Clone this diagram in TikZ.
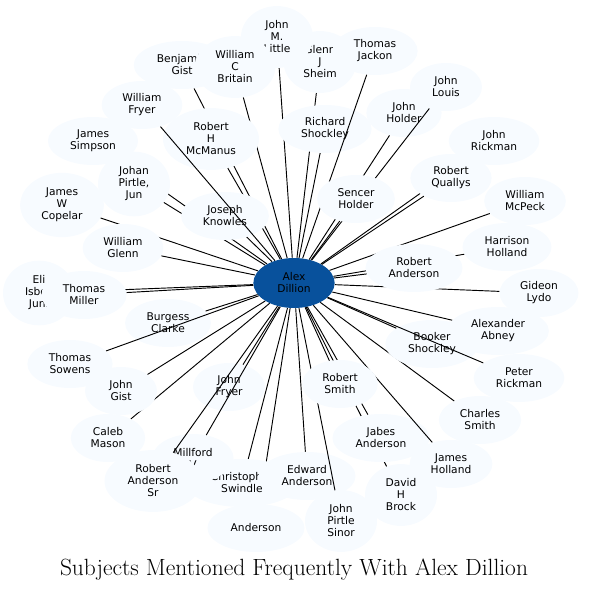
\documentclass[tikz,border=0pt]{standalone}
\usepackage{fontspec}
\usetikzlibrary{shapes.geometric}
\newfontfamily\dejavu{DejaVu Sans}
\definecolor{leaffill}{HTML}{F7FBFF}
\definecolor{hubfill}{HTML}{08519C}
\begin{document}
\begin{tikzpicture}[x=0.75pt, y=-0.75pt,
  person/.style={ellipse, fill=leaffill, align=center, inner xsep=6.75pt, inner ysep=4.3pt,
    minimum width=54pt, minimum height=36pt, font=\dejavu\fontsize{8}{9}\selectfont},
  hub/.style={person, fill=hubfill, minimum width=61pt, minimum height=37.5pt},
  link/.style={line width=0.7pt}]
\useasboundingbox (0,0) rectangle (588,591);

\node (alex) [hub] at (294,283) {Alex\\Dillion};

\node (eli) [person] at (39,293) {Eli\\Isbell\\Jun.};
\draw[link] (alex) -- (eli);
\node (copelar) [person] at (62,205) {James\\W\\Copelar};
\draw[link] (alex) -- (copelar);
\node (simpson) [person] at (93,141) {James\\Simpson};
\draw[link] (alex) -- (simpson);
\node (johan) [person] at (134,184) {Johan\\Pirtle,\\Jun};
\draw[link] (alex) -- (johan);
\node (benjamin) [person] at (182,65) {Benjamin\\Gist};
\draw[link] (alex) -- (benjamin);
\node (glenn) [person] at (320,62) {Glenn\\J\\Sheim};
\draw[link] (alex) -- (glenn);
\node (little) [person] at (277,37) {John\\M.\\Little};
\draw[link] (alex) -- (little);
\node (britain) [person] at (235,67) {William\\C\\Britain};
\draw[link] (alex) -- (britain);
\node (mcmanus) [person] at (211,139) {Robert\\H\\McManus};
\draw[link] (alex) -- (mcmanus);
\node (knowles) [person] at (225,216) {Joseph\\Knowles};
\draw[link] (alex) -- (knowles);
\node (wfryer) [person] at (142,105) {William\\Fryer};
\draw[link] (alex) -- (wfryer);
\node (rshockley) [person] at (325,129) {Richard\\Shockley};
\draw[link] (alex) -- (rshockley);
\node (jackon) [person] at (375,51) {Thomas\\Jackon};
\draw[link] (alex) -- (jackon);
\node (jholder) [person] at (404,113) {John\\Holder};
\draw[link] (alex) -- (jholder);
\node (louis) [person] at (446,87) {John\\Louis};
\draw[link] (alex) -- (louis);
\node (sencer) [person] at (356,199) {Sencer\\Holder};
\draw[link] (alex) -- (sencer);
\node (jrickman) [person] at (494,141) {John\\Rickman};
\draw[link] (alex) -- (jrickman);
\node (quallys) [person] at (451,178) {Robert\\Quallys};
\draw[link] (alex) -- (quallys);
\node (mcpeck) [person] at (525,201) {William\\McPeck};
\draw[link] (alex) -- (mcpeck);
\node (harrison) [person] at (507,247) {Harrison\\Holland};
\draw[link] (alex) -- (harrison);
\node (gideon) [person] at (539,293) {Gideon\\Lydo};
\draw[link] (alex) -- (gideon);
\node (randerson) [person] at (414,268) {Robert\\Anderson};
\draw[link] (alex) -- (randerson);
\node (miller) [person] at (84,295) {Thomas\\Miller};
\draw[link] (alex) -- (miller);
\node (wglenn) [person] at (123,248) {William\\Glenn};
\draw[link] (alex) -- (wglenn);
\node (burgess) [person] at (168,323) {Burgess\\Clarke};
\draw[link] (alex) -- (burgess);
\node (sowens) [person] at (70,364) {Thomas\\Sowens};
\draw[link] (alex) -- (sowens);
\node (caleb) [person] at (108,438) {Caleb\\Mason};
\draw[link] (alex) -- (caleb);
\node (jgist) [person] at (121,391) {John\\Gist};
\draw[link] (alex) -- (jgist);
\node (jfryer) [person] at (229,387) {John\\Fryer};
\draw[link] (alex) -- (jfryer);
\node (anderson) [person] at (256,528) {Anderson};
\draw[link] (alex) -- (anderson);
\node (swindle) [person] at (242,483) {Christopher\\Swindle};
\draw[link] (alex) -- (swindle);
\node (millford) [person] at (193,458) {Millford\\V};
\draw[link] (alex) -- (millford);
\node (andersonsr) [person] at (153,481) {Robert\\Anderson\\Sr};
\draw[link] (alex) -- (andersonsr);
\node (edward) [person] at (307,476) {Edward\\Anderson};
\draw[link] (alex) -- (edward);
\node (sinor) [person] at (341,521) {John\\Pirtle\\Sinor};
\draw[link] (alex) -- (sinor);
\node (brock) [person] at (401,495) {David\\H\\Brock};
\draw[link] (alex) -- (brock);
\node (jabes) [person] at (381,438) {Jabes\\Anderson};
\draw[link] (alex) -- (jabes);
\node (jholland) [person] at (451,464) {James\\Holland};
\draw[link] (alex) -- (jholland);
\node (rsmith) [person] at (340,384) {Robert\\Smith};
\draw[link] (alex) -- (rsmith);
\node (csmith) [person] at (480,420) {Charles\\Smith};
\draw[link] (alex) -- (csmith);
\node (abney) [person] at (498,331) {Alexander\\Abney};
\draw[link] (alex) -- (abney);
\node (booker) [person] at (432,344) {Booker\\Shockley};
\draw[link] (alex) -- (booker);
\node (prickman) [person] at (519,378) {Peter\\Rickman};
\draw[link] (alex) -- (prickman);

\node (title) at (294,570) {\fontsize{17.6}{21}\selectfont Subjects Mentioned Frequently With Alex Dillion};
\end{tikzpicture}
\end{document}
